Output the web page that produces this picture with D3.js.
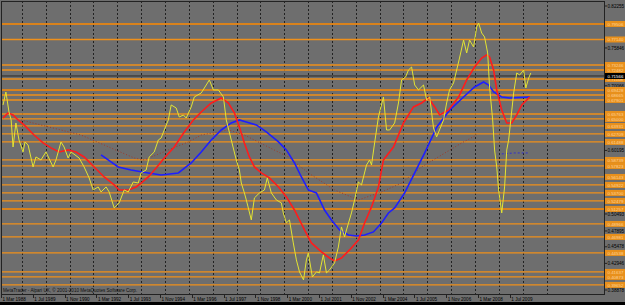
<!DOCTYPE html>
<html>
<head>
<meta charset="utf-8">
<title>Monthly chart</title>
<style>
  body { margin: 0; background: #6e6e6e; }
  svg { display: block; }
  text { font-family: "Liberation Sans", Arial, sans-serif; }
</style>
</head>
<body>
<div id="chart"></div>
<script src="https://cdnjs.cloudflare.com/ajax/libs/d3/7.8.5/d3.min.js"></script>
<script>

// price (yellow) - decimal years and closes
var priceYears = [1988.21,1988.33,1988.46,1988.55,1988.63,1988.75,1988.88,1989.05,1989.13,1989.26,
  1989.47,1989.59,1989.80,1990.01,1990.31,1990.43,1990.64,1990.77,1990.94,1991.06,
  1991.40,1991.61,1991.82,1991.99,1992.20,1992.32,1992.53,1992.66,1992.87,1993.08,
  1993.29,1993.46,1993.67,1993.88,1994.00,1994.21,1994.34,1994.55,1994.72,1994.84,
  1994.97,1995.14,1995.26,1995.47,1995.60,1995.77,1995.89,1996.10,1996.23,1996.52,
  1996.73,1996.86,1997.03,1997.24,1997.45,1997.57,1997.78,1997.99,1998.12,1998.20,
  1998.33,1998.41,1998.62,1998.75,1998.96,1999.17,1999.29,1999.46,1999.67,1999.88,
  1999.96,2000.09,2000.22,2000.38,2000.51,2000.64,2000.81,2000.93,2001.01,2001.18,
  2001.35,2001.48,2001.64,2001.77,2001.90,2002.11,2002.27,2002.40,2002.53,2002.61,
  2002.82,2002.95,2003.11,2003.24,2003.45,2003.58,2003.66,2003.79,2003.95,2004.16,
  2004.29,2004.42,2004.63,2004.79,2004.92,2005.09,2005.21,2005.34,2005.47,2005.63,
  2005.84,2005.97,2006.10,2006.26,2006.39,2006.51,2006.68,2006.81,2006.93,2007.10,
  2007.23,2007.35,2007.52,2007.65,2007.77,2007.94,2008.07,2008.15,2008.28,2008.40,
  2008.53,2008.61,2008.74,2008.82,2008.91,2008.99,2009.12,2009.24,2009.33,2009.41,
  2009.62,2009.75,2009.87,2010.04,2010.13,2010.25,2010.34];
var priceValues = [0.6714,0.6912,0.6607,0.6485,0.6072,0.6439,0.6179,0.5996,0.6149,0.6103,
  0.5767,0.5920,0.5874,0.5996,0.5767,0.5874,0.6149,0.6072,0.5904,0.5996,
  0.5904,0.5767,0.5600,0.5416,0.5462,0.5385,0.5462,0.5385,0.5141,0.5218,
  0.5416,0.5385,0.5538,0.5522,0.5676,0.5721,0.5920,0.5996,0.6179,0.6210,
  0.6332,0.6485,0.6714,0.6668,0.6530,0.6561,0.6515,0.6684,0.6836,0.6897,
  0.7019,0.7096,0.6943,0.6943,0.6836,0.6485,0.6179,0.5874,0.5721,0.5522,
  0.5370,0.5263,0.4958,0.5294,0.5370,0.5416,0.5600,0.5370,0.5263,0.5218,
  0.5065,0.4912,0.4958,0.4607,0.4347,0.4164,0.4042,0.4347,0.4454,0.4087,
  0.4164,0.4149,0.4424,0.4149,0.4194,0.4301,0.4545,0.4851,0.4699,0.4805,
  0.5065,0.5263,0.5538,0.5492,0.5797,0.5874,0.5797,0.6134,0.6530,0.6836,
  0.6332,0.6332,0.6439,0.6744,0.7096,0.7141,0.7248,0.7294,0.7019,0.6943,
  0.7019,0.6790,0.6836,0.6362,0.6226,0.6332,0.6485,0.6744,0.6943,0.7050,
  0.7248,0.7431,0.7706,0.7508,0.7706,0.7599,0.7905,0.7966,0.7813,0.7752,
  0.7508,0.6988,0.6485,0.6027,0.5767,0.5416,0.5065,0.5462,0.6027,0.6179,
  0.6897,0.7203,0.7172,0.7248,0.6973,0.7126,0.7203];

// red moving average
var fastYears = [1988.21,1988.42,1988.63,1988.84,1989.09,1989.51,1989.89,1990.22,1990.56,1990.94,
  1991.27,1991.61,1992.03,1992.45,1992.87,1993.08,1993.46,1993.79,1994.00,1994.30,
  1994.63,1994.97,1995.39,1995.81,1996.19,1996.52,1996.94,1997.36,1997.66,1997.91,
  1998.12,1998.33,1998.54,1998.75,1999.04,1999.38,1999.76,2000.09,2000.43,2000.85,
  2001.14,2001.56,2001.90,2002.11,2002.40,2002.74,2003.11,2003.37,2003.66,2003.95,
  2004.16,2004.58,2005.00,2005.42,2005.76,2006.05,2006.31,2006.52,2006.89,2007.31,
  2007.65,2007.98,2008.28,2008.49,2008.61,2008.78,2008.91,2009.12,2009.33,2009.54,
  2009.75,2009.96,2010.17,2010.29];
var fastValues = [0.6515,0.6592,0.6561,0.6485,0.6409,0.6255,0.6134,0.6058,0.5996,0.6027,
  0.5996,0.5920,0.5767,0.5614,0.5492,0.5416,0.5416,0.5462,0.5522,0.5614,
  0.5752,0.5904,0.6072,0.6302,0.6485,0.6607,0.6744,0.6821,0.6744,0.6592,
  0.6378,0.6134,0.5920,0.5767,0.5676,0.5600,0.5462,0.5309,0.5110,0.4805,
  0.4607,0.4469,0.4377,0.4332,0.4377,0.4500,0.4652,0.4912,0.5157,0.5462,
  0.5874,0.6072,0.6439,0.6684,0.6744,0.6821,0.6684,0.6561,0.6637,0.6836,
  0.7096,0.7294,0.7431,0.7478,0.7447,0.7248,0.6943,0.6637,0.6439,0.6439,
  0.6561,0.6714,0.6790,0.6836];

// blue moving average
var slowYears = [1992.32,1993.04,1993.58,1994.30,1994.84,1995.56,1996.10,1996.52,1996.94,1997.36,
  1997.78,1998.12,1998.41,1998.83,1999.25,1999.76,2000.09,2000.43,2000.72,2001.01,
  2001.35,2001.69,2001.98,2002.32,2002.69,2003.03,2003.37,2003.74,2004.08,2004.37,
  2004.63,2005.05,2005.47,2005.89,2006.40,2006.94,2007.52,2007.98,2008.36,2008.57,
  2008.78,2009.12,2009.45,2010.29];
var slowValues = [0.5951,0.5767,0.5721,0.5676,0.5645,0.5676,0.5828,0.5996,0.6179,0.6332,
  0.6439,0.6485,0.6454,0.6409,0.6302,0.6149,0.6027,0.5828,0.5614,0.5416,
  0.5370,0.5110,0.4958,0.4805,0.4729,0.4713,0.4729,0.4775,0.4912,0.5065,
  0.5141,0.5370,0.5676,0.5981,0.6378,0.6637,0.6836,0.6988,0.7065,0.7019,
  0.6912,0.6836,0.6821,0.6836];

// faint dotted long average
var longYears = [1988.96,1991.48,1993.71,1994.13,1995.14,1995.98,1996.52,1997.66,1998.33,1999.33,
  2000.17,2001.01,2002.11,2003.11,2004.08,2004.92,2005.76,2007.44,2008.07];
var longValues = [0.6485,0.6255,0.5904,0.5874,0.6027,0.6149,0.6255,0.6332,0.6255,0.6072,
  0.5920,0.5676,0.5416,0.5263,0.5385,0.5522,0.5767,0.6134,0.6255];

// short dotted blue piece at the end
var tailYears = [2009.12, 2009.66, 2010.21];
var tailValues = [0.5966, 0.5981, 0.5981];

// horizontal levels (orange)
var levels = [0.79506,0.77140,0.73246,0.72482,0.71108,0.69428,0.68665,0.67901,0.65763,0.65000,
  0.63931,0.62709,0.61488,0.58739,0.57823,0.56143,0.54922,0.53700,0.52479,0.51257,
  0.48966,0.46981,0.44538,0.41637,0.40873,0.39652];
var thickLevels = [0.79506, 0.69428, 0.51257];
var bidLevel = 0.71566;

var priceTicks = [0.82255,0.75846,0.70066,0.60195,0.50493,0.47895,0.45478,0.42946,0.38878];

var dateLabels = ["1 Mar 1988","1 Jul 1989","1 Nov 1990","1 Mar 1992","1 Jul 1993","1 Nov 1994",
  "1 Mar 1996","1 Jul 1997","1 Nov 1998","1 Mar 2000","1 Jul 2001","1 Nov 2002",
  "1 Mar 2004","1 Jul 2005","1 Nov 2006","1 Mar 2008","1 Jul 2009"];
var dateYears = [1988.167,1989.5,1990.833,1992.167,1993.5,1994.833,1996.167,1997.5,1998.833,
  2000.167,2001.5,2002.833,2004.167,2005.5,2006.833,2008.167,2009.5];

var width = 625, height = 305;
var plotL = 1, plotR = 604, plotT = 1, plotB = 294;

var x = d3.scaleLinear().domain([1988 + 2/12, 2009.5]).range([2, 510.8]);
var y = d3.scaleLinear().domain([0.38878, 0.82255]).range([290, 6]);

var svg = d3.select('#chart').append('svg')
  .attr('width', width)
  .attr('height', height);

svg.append('rect').attr('width', width).attr('height', height).attr('fill', '#6e6e6e');

svg.append('clipPath').attr('id', 'clip')
  .append('rect')
  .attr('x', plotL).attr('y', plotT)
  .attr('width', plotR - plotL).attr('height', plotB - plotT);

var plot = svg.append('g').attr('clip-path', 'url(#clip)');

// yearly grid
var gridYears = d3.range(1989, 2012);
plot.selectAll('line.grid')
  .data(gridYears)
  .enter().append('line')
    .attr('class', 'grid')
    .attr('x1', function(d) { return Math.round(x(d)) + 0.5; })
    .attr('x2', function(d) { return Math.round(x(d)) + 0.5; })
    .attr('y1', plotT).attr('y2', plotB)
    .attr('stroke', '#222')
    .attr('stroke-width', 1)
    .attr('stroke-dasharray', '2,2');

// orange levels
plot.selectAll('line.level')
  .data(levels)
  .enter().append('line')
    .attr('class', 'level')
    .attr('x1', plotL).attr('x2', plotR)
    .attr('y1', function(d) { return y(d); })
    .attr('y2', function(d) { return y(d); })
    .attr('stroke', function(d) { return thickLevels.indexOf(d) >= 0 ? '#d9821c' : '#f0901a'; })
    .attr('stroke-width', function(d) { return thickLevels.indexOf(d) >= 0 ? 2 : 1.3; });

// bid line
plot.append('line')
  .attr('x1', plotL).attr('x2', plotR)
  .attr('y1', y(bidLevel)).attr('y2', y(bidLevel))
  .attr('stroke', '#2a2a2a').attr('stroke-width', 1);

function series(years, values) {
  return years.map(function(d, i) { return [d, values[i]]; });
}
var line = d3.line()
  .x(function(d) { return x(d[0]); })
  .y(function(d) { return y(d[1]); });

plot.append('path')
  .attr('d', line(series(longYears, longValues)))
  .attr('fill', 'none').attr('stroke', '#a03a2a')
  .attr('stroke-width', 1).attr('stroke-dasharray', '1,2');

plot.append('path')
  .attr('d', line(series(tailYears, tailValues)))
  .attr('fill', 'none').attr('stroke', '#3030d0')
  .attr('stroke-width', 1).attr('stroke-dasharray', '2,2');

plot.append('path')
  .attr('d', line(series(slowYears, slowValues)))
  .attr('fill', 'none').attr('stroke', '#1e1eff').attr('stroke-width', 1.6);

plot.append('path')
  .attr('d', line(series(fastYears, fastValues)))
  .attr('fill', 'none').attr('stroke', '#ff1c1c').attr('stroke-width', 1.6);

plot.append('path')
  .attr('d', line(series(priceYears, priceValues)))
  .attr('fill', 'none').attr('stroke', '#e4e432').attr('stroke-width', 1);

// frame
svg.append('rect')
  .attr('x', plotL + 0.5).attr('y', plotT + 0.5)
  .attr('width', plotR - plotL).attr('height', plotB - plotT)
  .attr('fill', 'none').attr('stroke', '#222');

// right price scale
var axis = svg.append('g');
axis.selectAll('line.tick')
  .data(priceTicks)
  .enter().append('line')
    .attr('x1', plotR).attr('x2', plotR + 3)
    .attr('y1', function(d) { return y(d); })
    .attr('y2', function(d) { return y(d); })
    .attr('stroke', '#222');
axis.selectAll('text.tick')
  .data(priceTicks)
  .enter().append('text')
    .attr('x', plotR + 3.5)
    .attr('y', function(d) { return y(d) + 1.7; })
    .attr('font-size', 4.6)
    .attr('fill', '#000')
    .text(function(d) { return d.toFixed(5); });

var tags = axis.selectAll('g.tag')
  .data(levels)
  .enter().append('g')
    .attr('transform', function(d) { return 'translate(' + (plotR + 1) + ',' + y(d) + ')'; });
tags.append('rect')
  .attr('x', 0).attr('y', -3).attr('width', 20).attr('height', 6)
  .attr('fill', '#e8901c');
tags.append('text')
  .attr('x', 2.5).attr('y', 1.6)
  .attr('font-size', 4.4)
  .attr('fill', '#ffd49a')
  .text(function(d) { return d.toFixed(5); });

var bid = axis.append('g')
  .attr('transform', 'translate(' + (plotR + 1) + ',' + y(bidLevel) + ')');
bid.append('rect').attr('x', 0).attr('y', -3).attr('width', 20).attr('height', 6).attr('fill', '#000');
bid.append('text').attr('x', 2.5).attr('y', 1.6).attr('font-size', 4.4).attr('fill', '#fff')
  .text(bidLevel.toFixed(5));

// time scale
svg.selectAll('line.dtick')
  .data(dateYears)
  .enter().append('line')
    .attr('x1', function(d) { return Math.round(x(d)) - 0.5; })
    .attr('x2', function(d) { return Math.round(x(d)) - 0.5; })
    .attr('y1', plotB).attr('y2', plotB + 4)
    .attr('stroke', '#222');
svg.selectAll('text.date')
  .data(dateYears)
  .enter().append('text')
    .attr('x', function(d) { return x(d) + 0.5; })
    .attr('y', 300.5)
    .attr('font-size', 4.6)
    .attr('fill', '#000')
    .text(function(d, i) { return dateLabels[i]; });

svg.append('text')
  .attr('x', 3).attr('y', 292)
  .attr('font-size', 4.6)
  .attr('fill', '#111')
  .text('MetaTrader - Alpari UK, \u00a9 2001-2010 MetaQuotes Software Corp.');

svg.append('rect').attr('x', 0).attr('y', 302).attr('width', width).attr('height', 3).attr('fill', '#000');

</script>
</body>
</html>
